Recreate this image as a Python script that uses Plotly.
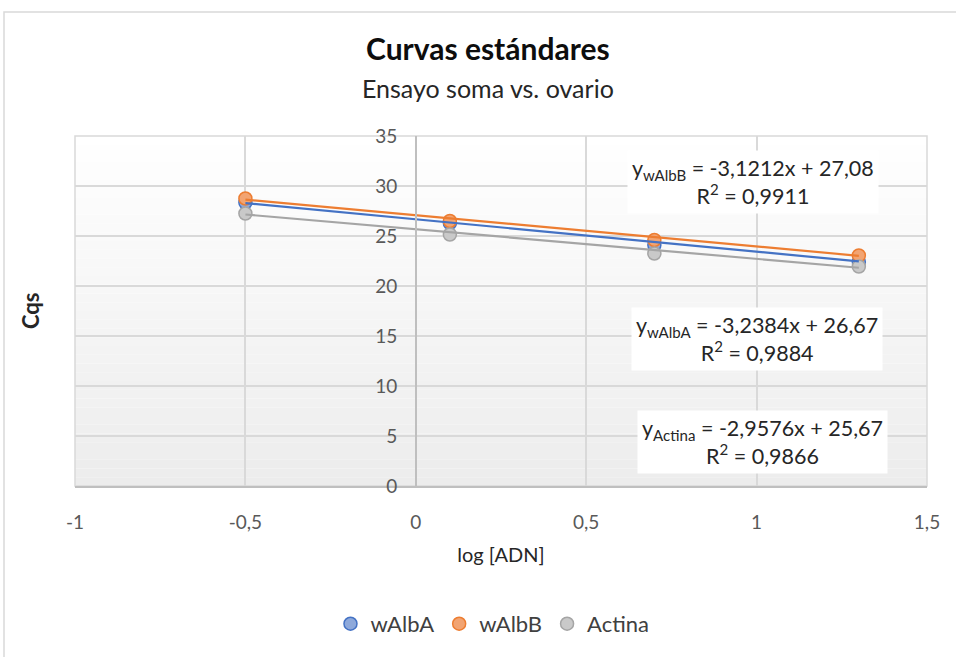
import plotly.graph_objects as go

# ---- data ----
series_names = ["wAlbA", "wAlbB", "Actina"]
x_log_adn = [-0.5, 0.1, 0.7, 1.3]
cq_walba = [28.35, 26.3, 24.1, 22.4]
cq_walbb = [28.75, 26.5, 24.6, 23.05]
cq_actina = [27.25, 25.15, 23.25, 21.95]
slopes = [-3.2384, -3.1212, -2.9576]
intercepts = [26.67, 27.08, 25.67]
r2_values = [0.9884, 0.9911, 0.9866]
x_ticks = [-1, -0.5, 0, 0.5, 1, 1.5]
x_tick_labels = ["-1", "-0,5", "0", "0,5", "1", "1,5"]
y_ticks = [0, 5, 10, 15, 20, 25, 30, 35]
y_tick_labels = ["0", "5", "10", "15", "20", "25", "30", "35"]

line_colors = ["#4472C4", "#ED7D31", "#A5A5A5"]
fill_colors = ["#8EA9DB", "#F2A472", "#C9C9C9"]
all_cq = [cq_walba, cq_walbb, cq_actina]

FONT = "Lato"
fig = go.Figure()

# markers
for name, ys, lc, fc in zip(series_names, all_cq, line_colors, fill_colors):
    fig.add_trace(go.Scatter(
        x=x_log_adn, y=ys, mode="markers", name=name,
        marker=dict(size=13, color=fc, line=dict(color=lc, width=1.5)),
    ))

# linear trendlines
xmin, xmax = min(x_log_adn), max(x_log_adn)
for name, m, b, lc in zip(series_names, slopes, intercepts, line_colors):
    xs = [xmin, xmax]
    fig.add_trace(go.Scatter(
        x=xs, y=[m * v + b for v in xs], mode="lines", showlegend=False,
        line=dict(color=lc, width=2.2), hoverinfo="skip",
    ))

def fmt(v, nd):
    return f"{v:.{nd}f}".replace(".", ",")

# equation boxes: (series index, x, y)
eq_pos = [(1, 0.99, 30.4), (0, 1.0, 14.7), (2, 1.018, 4.4)]
annotations = []
for idx, ax_, ay_ in eq_pos:
    txt = (f"y<sub>{series_names[idx]}</sub> = {fmt(slopes[idx],4)}x + {fmt(intercepts[idx],2)}"
           f"<br>R<sup>2</sup> = {fmt(r2_values[idx],4)}")
    annotations.append(dict(
        x=ax_, y=ay_, xref="x", yref="y", text=txt, showarrow=False,
        font=dict(family=FONT, size=21.5, color="#262626"), bgcolor="white",
        borderpad=4, align="center",
    ))

# titles
annotations += [
    dict(x=0.485, y=1.251, xref="paper", yref="paper", text="<b>Curvas estándares</b>",
         showarrow=False, font=dict(family=FONT, size=30, color="#0D0D0D"),
         xanchor="center", yanchor="middle"),
    dict(x=0.485, y=1.137, xref="paper", yref="paper", text="Ensayo soma vs. ovario",
         showarrow=False, font=dict(family=FONT, size=25, color="#262626"),
         xanchor="center", yanchor="middle"),
    dict(x=(30 - 75) / 852, y=0.5, xref="paper", yref="paper", text="<b>Cqs</b>",
         textangle=-90, showarrow=False, font=dict(family=FONT, size=22, color="#262626"),
         xanchor="center", yanchor="middle"),
]

# gradient background bands + borders
shapes = []
n_bands = 40
for i in range(n_bands):
    t = (i + 0.5) / n_bands  # 0 bottom -> 1 top
    g = int(round(236 + (255 - 236) * t))
    shapes.append(dict(type="rect", xref="x domain", yref="y domain",
                       x0=0, x1=1, y0=i / n_bands, y1=(i + 1) / n_bands,
                       fillcolor=f"rgb({g},{g},{g})", line=dict(width=0), layer="below"))
shapes.append(dict(type="rect", xref="x domain", yref="y domain", x0=0, x1=1, y0=0, y1=1,
                   line=dict(color="#D9D9D9", width=1.5), layer="below"))
shapes.append(dict(type="rect", xref="paper", yref="paper",
                   x0=(4 - 75) / 852, x1=1.3, y0=-1.0, y1=(486 - 12) / 350,
                   line=dict(color="#D9D9D9", width=1.5), fillcolor="rgba(0,0,0,0)"))

fig.update_layout(
    width=956, height=657,
    margin=dict(l=75, r=29, t=136, b=171),
    paper_bgcolor="white", plot_bgcolor="rgba(0,0,0,0)",
    showlegend=True,
    legend=dict(orientation="h", x=0.49, xanchor="center", y=-0.394, yanchor="middle",
                font=dict(family=FONT, size=22, color="#404040"), itemwidth=30,
                traceorder="normal"),
    annotations=annotations, shapes=shapes,
    xaxis=dict(range=[-1, 1.5], tickvals=x_ticks, ticktext=x_tick_labels,
               showgrid=True, gridcolor="#D9D9D9", gridwidth=1.5, zeroline=False,
               showline=True, linecolor="#BFBFBF", linewidth=1.5,
               tickfont=dict(family=FONT, size=19, color="#595959"),
               ticks="", ticklabelstandoff=18,
               title=dict(text="log [ADN]", font=dict(family=FONT, size=20, color="#262626"),
                          standoff=16)),
    yaxis=dict(range=[0, 35], tickvals=y_ticks, ticktext=y_tick_labels,
               anchor="free", position=0.4,
               showgrid=True, gridcolor="#D9D9D9", gridwidth=1.5, zeroline=False,
               showline=True, linecolor="#BFBFBF", linewidth=1.5,
               tickfont=dict(family=FONT, size=19, color="#595959"),
               ticks="", ticklabelstandoff=14),
    font=dict(family=FONT),
)

fig.write_html("out.html")
